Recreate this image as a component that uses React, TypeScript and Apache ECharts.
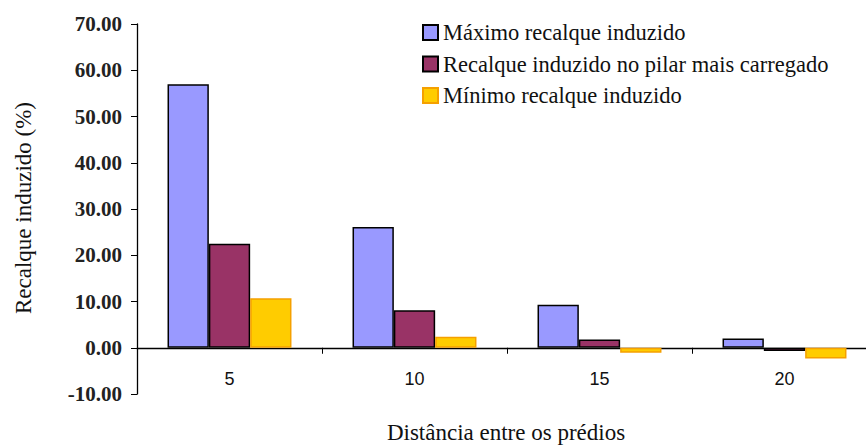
import React, { useEffect, useRef } from "react";
import * as echarts from "echarts";

const categories = ["5", "10", "15", "20"];
const maxValues = [57.0, 26.1, 9.3, 2.0];
const pilarValues = [22.5, 8.1, 1.8, -0.7];
const minValues = [10.7, 2.4, -1.1, -2.3];
const seriesNames = [
  "Máximo recalque induzido",
  "Recalque induzido no pilar mais carregado",
  "Mínimo recalque induzido",
];

export default function App() {
  const ref = useRef<HTMLDivElement>(null);
  useEffect(() => {
    document.body.style.margin = "0";
    const chart = echarts.init(ref.current!, null, { renderer: "svg" });
    const serif = "Liberation Serif";
    const sans = "Liberation Sans";
    chart.setOption({
      animation: false,
      backgroundColor: "#ffffff",
      textStyle: { fontFamily: serif },
      grid: { left: 137, top: 24, width: 740, height: 370, containLabel: false },
      legend: {
        orient: "vertical",
        left: 422,
        top: 21,
        padding: 0,
        itemWidth: 15,
        itemHeight: 15,
        itemGap: 8.5,
        icon: "rect",
        textStyle: { fontFamily: serif, fontSize: 22.5, lineHeight: 23, color: "#111" },
        data: seriesNames,
      },
      xAxis: {
        type: "category",
        data: categories,
        axisLine: { onZero: true, lineStyle: { color: "#000", width: 1.3 } },
        axisTick: { show: true, alignWithLabel: false, length: 6, lineStyle: { color: "#000" } },
        axisLabel: { margin: -24, fontFamily: sans, fontSize: 18, color: "#111" },
        splitLine: { show: false },
      },
      yAxis: {
        type: "value",
        min: -10,
        max: 70,
        interval: 10,
        axisLine: { show: true, lineStyle: { color: "#000", width: 1.3 } },
        axisTick: { show: true, length: 6, lineStyle: { color: "#000" } },
        axisLabel: {
          margin: 15,
          fontFamily: serif,
          fontSize: 21,
          fontWeight: "bold",
          color: "#222",
          formatter: (v: number) => v.toFixed(2),
        },
        splitLine: { show: false },
      },
      graphic: [
        {
          type: "text",
          x: 23,
          y: 208,
          rotation: Math.PI / 2,
          style: {
            text: "Recalque induzido (%)",
            fontFamily: serif,
            fontSize: 23,
            fill: "#111",
            align: "center",
            verticalAlign: "middle",
          },
        },
        {
          type: "text",
          x: 506,
          y: 432,
          style: {
            text: "Distância entre os prédios",
            fontFamily: serif,
            fontSize: 23,
            fill: "#111",
            align: "center",
            verticalAlign: "middle",
          },
        },
      ],
      series: [
        {
          name: seriesNames[0],
          type: "bar",
          data: maxValues,
          barGap: "0%",
          barCategoryGap: "33%",
          itemStyle: { color: "#9999FF", borderColor: "#000", borderWidth: 1.5 },
        },
        {
          name: seriesNames[1],
          type: "bar",
          data: pilarValues,
          barGap: "0%",
          barCategoryGap: "33%",
          itemStyle: { color: "#993366", borderColor: "#000", borderWidth: 1.5 },
        },
        {
          name: seriesNames[2],
          type: "bar",
          data: minValues,
          barGap: "0%",
          barCategoryGap: "33%",
          itemStyle: { color: "#FFCC00", borderColor: "#F5A000", borderWidth: 1.5 },
        },
      ],
    });
    return () => chart.dispose();
  }, []);
  return (
    <div style={{ width: 866, height: 445, overflow: "hidden", position: "relative" }}>
      <div ref={ref} style={{ width: 900, height: 445 }} />
    </div>
  );
}
